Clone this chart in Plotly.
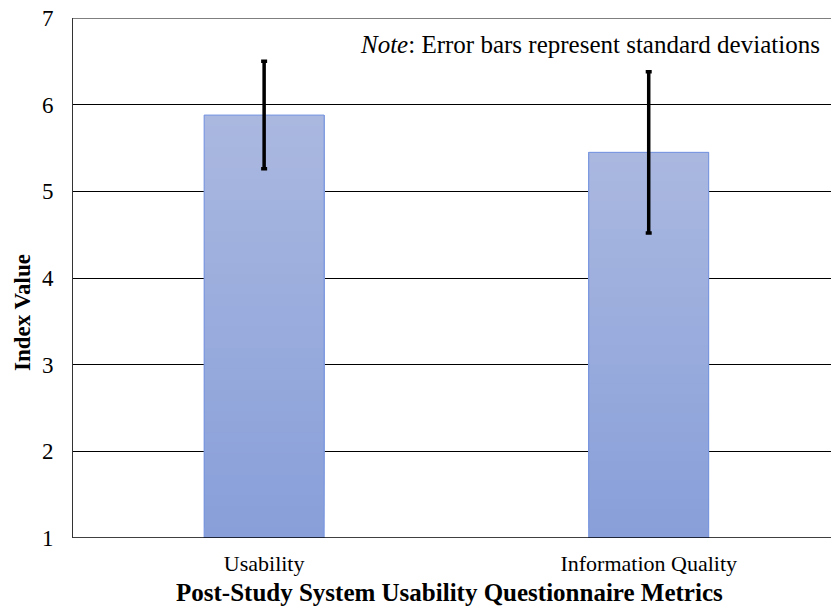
import plotly.graph_objects as go

categories = ["Usability", "Information Quality"]
means = [5.88, 5.45]
sds = [0.62, 0.93]
y_ticks = [1, 2, 3, 4, 5, 6, 7]

FONT = "Liberation Serif, Times New Roman, serif"
top_rgb = (170, 184, 224)
bot_rgb = (136, 159, 217)
N = 40
BASE = 1.0
BW = 0.312

fig = go.Figure()
# gradient: overlapping segments, each from a rising base up to the mean
for i in range(N):
    t = i / (N - 1)
    c = tuple(int(round(bot_rgb[k] + (top_rgb[k] - bot_rgb[k]) * t)) for k in range(3))
    seg_base = [BASE + (m - BASE) * i / N for m in means]
    seg_h = [m - b for m, b in zip(means, seg_base)]
    fig.add_trace(go.Bar(
        x=categories, y=seg_h, base=seg_base, width=BW,
        marker=dict(color="rgb(%d,%d,%d)" % c, line=dict(width=0)),
        showlegend=False, hoverinfo="skip"))
# outline + error bars
fig.add_trace(go.Bar(
    x=categories, y=[m - BASE for m in means], base=[BASE] * len(means), width=BW,
    marker=dict(color="rgba(0,0,0,0)", line=dict(color="#7393e0", width=1)),
    error_y=dict(type="data", array=sds, color="black", thickness=3.5, width=3),
    showlegend=False))

fig.update_layout(
    barmode="overlay",
    width=831, height=612,
    margin=dict(l=73, r=0, t=18, b=74),
    paper_bgcolor="white", plot_bgcolor="white",
    font=dict(family=FONT, color="black", size=22),
    xaxis=dict(range=[-0.497, 1.474], showgrid=False, showline=False,
               tickfont=dict(size=22), ticks="", automargin=False,
               ticklabelstandoff=10),
    yaxis=dict(range=[1, 7], tickvals=y_ticks, showgrid=True, gridcolor="black",
               gridwidth=1, zeroline=False, showline=True, linecolor="#333333",
               linewidth=1, ticks="", tickfont=dict(size=23), automargin=False,
               ticklabelstandoff=14, ticklabeloverflow="allow"),
    annotations=[
        dict(text="<i>Note</i>: Error bars represent standard deviations",
             xref="paper", yref="paper", x=0.988, y=0.95,
             xanchor="right", yanchor="middle", showarrow=False,
             font=dict(size=25, family=FONT)),
        dict(text="<b>Index Value</b>", textangle=-90,
             xref="paper", yref="paper", x=-0.0673, y=0.4346,
             xanchor="center", yanchor="middle", showarrow=False,
             font=dict(size=23, family=FONT)),
        dict(text="<b>Post-Study System Usability Questionnaire Metrics</b>",
             xref="paper", yref="paper", x=0.497, y=-0.104,
             xanchor="center", yanchor="middle", showarrow=False,
             font=dict(size=25, family=FONT)),
    ],
)
fig.add_hline(y=1, line=dict(color="black", width=1.5))
fig.add_hline(y=7, line=dict(color="black", width=1))

fig.write_html("out.html",
               config={"displayModeBar": False},
               post_script="document.body.style.margin='0';document.body.style.overflow='hidden';")
